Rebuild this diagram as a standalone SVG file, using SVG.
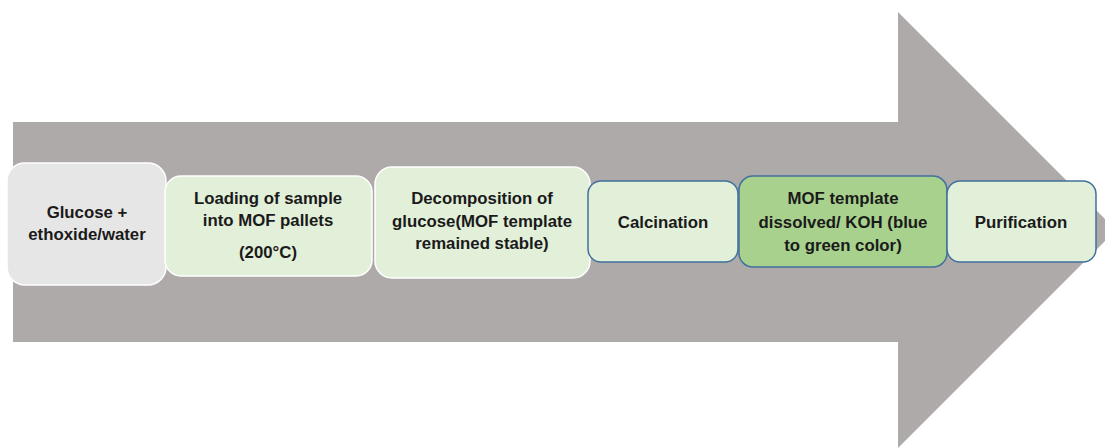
<svg xmlns="http://www.w3.org/2000/svg" width="1105" height="448" viewBox="0 0 1105 448">
<style>
.t{font-family:"Liberation Sans",Arial,sans-serif;font-weight:bold;font-size:16.8px;fill:#1a1a1a;text-anchor:middle;dominant-baseline:central}
.w{stroke:#ffffff;stroke-width:1.5}
.b{stroke:#41719c;stroke-width:1.5}
</style>
<rect width="1105" height="448" fill="#ffffff"/>
<g id="arrow">
<polygon points="13,122 898,122 898,12 1116,230 898,448 898,342 13,342" fill="#aeaaaa"/>
</g>
<g id="connectors"></g>
<g id="n1">
<rect x="7" y="163" width="159" height="122" rx="18" fill="#e7e6e6" class="w"/>
<text class="t" x="87" y="212">Glucose +</text>
<text class="t" x="87" y="234">ethoxide/water</text>
</g>
<g id="n2">
<rect x="165" y="176" width="207" height="100" rx="16" fill="#e2efd9" class="w"/>
<text class="t" x="268" y="198">Loading of sample</text>
<text class="t" x="268" y="220">into MOF pallets</text>
<text class="t" x="268" y="252">(200°C)</text>
</g>
<g id="n3">
<rect x="375" y="167" width="215" height="111" rx="17" fill="#e2efd9" class="w"/>
<text class="t" x="482" y="198">Decomposition of</text>
<text class="t" x="482" y="221">glucose(MOF template</text>
<text class="t" x="482" y="243">remained stable)</text>
</g>
<g id="n4">
<rect x="588" y="181" width="150" height="81" rx="13" fill="#e2efd9" class="b"/>
<text class="t" x="663" y="222">Calcination</text>
</g>
<g id="n5">
<rect x="739" y="176" width="208" height="91" rx="14" fill="#a9d18e" class="b"/>
<text class="t" x="843" y="198">MOF template</text>
<text class="t" x="843" y="222">dissolved/ KOH (blue</text>
<text class="t" x="843" y="245">to green color)</text>
</g>
<g id="n6">
<rect x="947" y="181" width="149" height="81" rx="13" fill="#e2efd9" class="b"/>
<text class="t" x="1021" y="222">Purification</text>
</g>
</svg>
